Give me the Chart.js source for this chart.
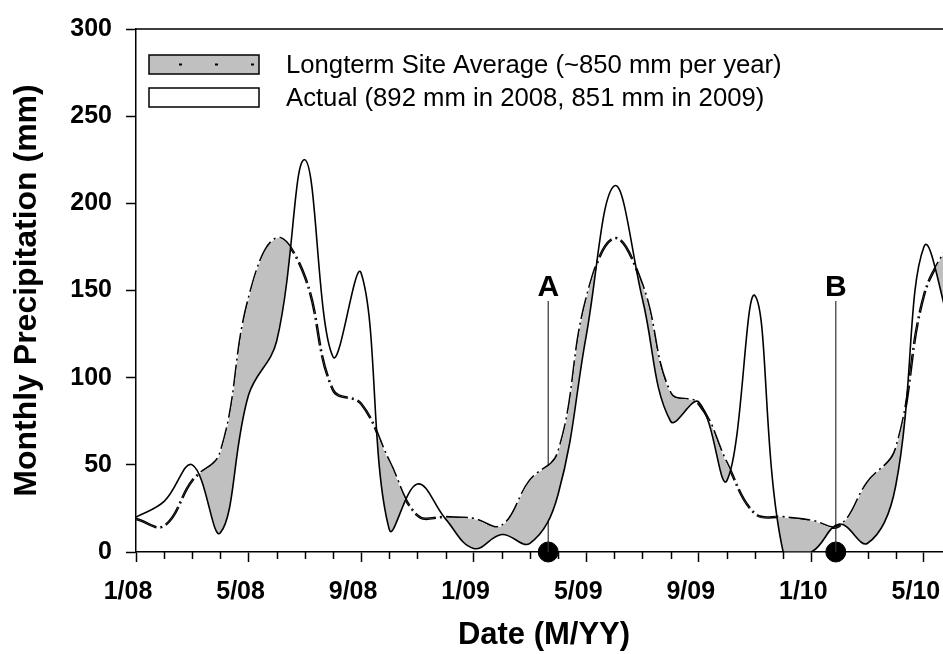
<!DOCTYPE html>
<html>
<head>
<meta charset="utf-8">
<script src="https://cdn.jsdelivr.net/npm/chart.js@4.4.1/dist/chart.umd.min.js"></script>
<style>
  html, body { margin: 0; padding: 0; overflow: hidden; background: #fff; width: 943px; height: 654px; }
  canvas { display: block; }
</style>
</head>
<body>
<canvas id="c" width="952" height="654"></canvas>
<script>
// ---- data (month index 0 = 1/08) ----
const months = ['1/08','2/08','3/08','4/08','5/08','6/08','7/08','8/08','9/08','10/08','11/08','12/08',
                '1/09','2/09','3/09','4/09','5/09','6/09','7/09','8/09','9/09','10/09','11/09','12/09',
                '1/10','2/10','3/10','4/10','5/10','6/10'];
const monthIndex = [0,1,2,3,4,5,6,7,8,9,10,11,12,13,14,15,16,17,18,19,20,21,22,23,24,25,26,27,28,29];
const longtermAverage = [19,15,41,57,145,180,158,93,85,52,21,20,
                         19,15,41,57,145,180,153,91,85,51,22,20,
                         18,15,40,59,147,180];
const actualPrecip = [20,29,50,11,90,121,225,112,160,13,39,19,
                      2,10,5,33,124,210,145,75,86,41,147,0,
                      0,16,5,38,175,125];
const tickMonths = [0,4,8,12,16,20,24,28];
const tickLabels = ['1/08','5/08','9/08','1/09','5/09','9/09','1/10','5/10'];
const markerLabels = ['A','B'];
const markerMonths = [14.65, 24.87];
const markerTops = [144, 144];
const legendLabels = ['Longterm Site Average (~850 mm per year)', 'Actual (892 mm in 2008, 851 mm in 2009)'];
const yTitle = 'Monthly Precipitation (mm)';
const xTitle = 'Date (M/YY)';

const FONT = "'Liberation Sans', Arial, Helvetica, sans-serif";

const toPts = (vals) => vals.map((v, i) => ({x: monthIndex[i], y: v}));

const overlay = {
  id: 'overlay',
  afterDraw(chart) {
    const {ctx, chartArea: ca, scales: {x, y}} = chart;
    ctx.save();
    // frame top/right
    ctx.strokeStyle = '#000';
    ctx.lineWidth = 1.5;
    ctx.beginPath();
    ctx.moveTo(ca.left, ca.top);
    ctx.lineTo(ca.right, ca.top);
    ctx.lineTo(ca.right, ca.bottom);
    ctx.stroke();
    // minor ticks
    ctx.beginPath();
    monthIndex.forEach(m => {
      if (tickMonths.indexOf(m) === -1) {
        const px = Math.round(x.getPixelForValue(m)) + 0.5;
        ctx.moveTo(px, ca.bottom);
        ctx.lineTo(px, ca.bottom + 7);
      }
    });
    ctx.stroke();
    // marker labels
    ctx.fillStyle = '#000';
    ctx.font = 'bold 30px ' + FONT;
    ctx.textAlign = 'center';
    ctx.textBaseline = 'alphabetic';
    markerLabels.forEach((lab, i) => {
      ctx.fillText(lab, x.getPixelForValue(markerMonths[i]), y.getPixelForValue(markerTops[i]) - 5);
    });
    // legend
    const bx = ca.left + 13, bw = 110, bh = 19;
    const by1 = ca.top + 26, by2 = ca.top + 59;
    ctx.lineWidth = 1.5;
    ctx.fillStyle = '#c0c0c0';
    ctx.fillRect(bx, by1, bw, bh);
    ctx.strokeRect(bx, by1, bw, bh);
    ctx.fillStyle = '#000';
    [30, 66, 102].forEach(o => ctx.fillRect(bx + o, by1 + bh / 2 - 1, 3, 2));
    ctx.fillStyle = '#fff';
    ctx.fillRect(bx, by2, bw, bh);
    ctx.strokeRect(bx, by2, bw, bh);
    ctx.fillStyle = '#000';
    ctx.font = '25.7px ' + FONT;
    ctx.textAlign = 'left';
    ctx.textBaseline = 'middle';
    ctx.fillText(legendLabels[0], bx + 137, by1 + bh / 2 + 1);
    ctx.fillText(legendLabels[1], bx + 137, by2 + bh / 2 + 1);
    ctx.restore();
  }
};

new Chart(document.getElementById('c'), {
  type: 'line',
  data: {
    datasets: [
      {
        label: 'Actual',
        data: toPts(actualPrecip),
        borderColor: '#000',
        borderWidth: 1.6,
        pointRadius: 0,
        tension: 0.4,
        fill: {target: 1, above: 'rgba(0,0,0,0)', below: '#c0c0c0'}
      },
      {
        label: 'Longterm Site Average',
        data: toPts(longtermAverage),
        borderColor: '#000',
        borderWidth: 2.6,
        borderDash: [22, 4, 2, 4],
        pointRadius: 0,
        tension: 0.4,
        fill: false
      },
      {
        label: 'A',
        data: [{x: markerMonths[0], y: 0}, {x: markerMonths[0], y: markerTops[0]}],
        borderColor: '#333',
        borderWidth: 1.2,
        pointRadius: 0,
        tension: 0,
        fill: false
      },
      {
        label: 'B',
        data: [{x: markerMonths[1], y: 0}, {x: markerMonths[1], y: markerTops[1]}],
        borderColor: '#333',
        borderWidth: 1.2,
        pointRadius: 0,
        tension: 0,
        fill: false
      },
      {
        type: 'scatter',
        label: 'dots',
        data: markerMonths.map(m => ({x: m, y: 0})),
        pointRadius: 10,
        pointBackgroundColor: '#000',
        pointBorderColor: '#000',
        showLine: false,
        clip: false
      }
    ]
  },
  options: {
    responsive: false,
    animation: false,
    devicePixelRatio: 1,
    layout: { autoPadding: false, padding: {top: 22, left: 0, right: 0, bottom: 0} },
    plugins: { legend: {display: false}, tooltip: {enabled: false} },
    scales: {
      x: {
        type: 'linear',
        min: 0,
        max: 29,
        afterFit: s => { s.height = 102; s.paddingRight = 0; s.paddingLeft = 0; },
        border: {display: true, color: '#000', width: 1.5},
        grid: {
          display: true,
          drawOnChartArea: false,
          drawTicks: true,
          tickLength: 10,
          tickWidth: 1.5,
          tickColor: c => (c.tick && tickMonths.indexOf(c.tick.value) !== -1) ? '#000' : 'rgba(0,0,0,0)'
        },
        ticks: {
          stepSize: 1,
          autoSkip: false,
          maxRotation: 0,
          padding: 15,
          labelOffset: -8,
          color: '#000',
          font: {family: FONT, size: 25, weight: 'bold'},
          callback: v => { const k = tickMonths.indexOf(v); return k === -1 ? '' : tickLabels[k]; }
        },
        title: {
          display: true,
          text: xTitle,
          color: '#000',
          font: {family: FONT, size: 31, weight: 'bold'},
          padding: {top: 0, bottom: 0}
        }
      },
      y: {
        min: 0,
        max: 300,
        afterFit: s => { s.width = 136; },
        border: {display: true, color: '#000', width: 1.5},
        grid: {
          display: true,
          drawOnChartArea: false,
          drawTicks: true,
          tickLength: 10,
          tickWidth: 1.5,
          tickColor: '#000'
        },
        ticks: {
          stepSize: 50,
          padding: 14,
          color: '#000',
          font: {family: FONT, size: 25, weight: 'bold'}
        },
        title: {
          display: true,
          text: yTitle,
          color: '#000',
          font: {family: FONT, size: 32, weight: 'bold'},
          padding: {top: 8, bottom: 0}
        }
      }
    }
  },
  plugins: [overlay]
});
</script>
</body>
</html>
